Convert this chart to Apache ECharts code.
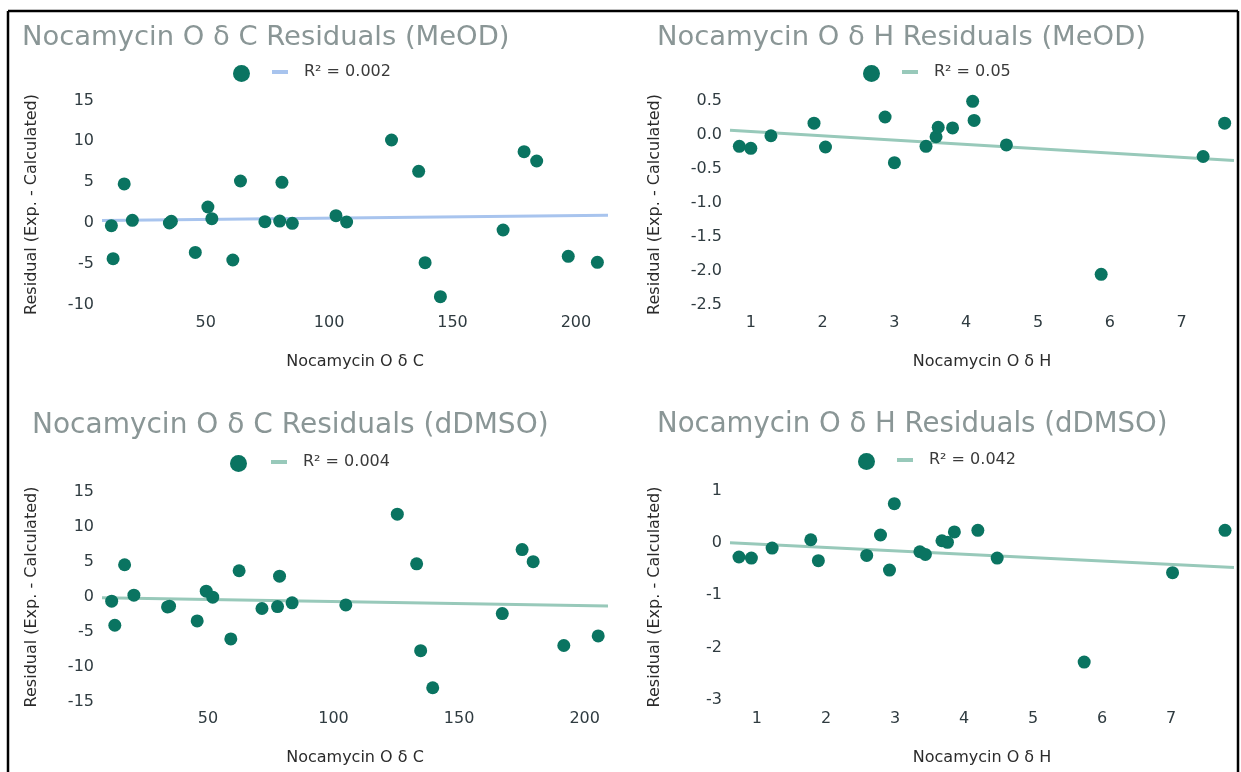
<!DOCTYPE html>
<html>
<head>
<meta charset="utf-8">
<title>Nocamycin O residuals</title>
<script src="https://cdn.jsdelivr.net/npm/echarts@6/dist/echarts.min.js"></script>
<style>
  html, body { margin: 0; padding: 0; background: #ffffff; }
  #chart { width: 1241px; height: 772px; }
</style>
</head>
<body>
<div id="chart"></div>
<script>
// ---- Nocamycin O, 13C shifts in MeOD: shift vs residual ----
const shiftC_MeOD = [11.8, 12.5, 17.0, 20.3, 35.3, 36.1, 45.8, 50.9, 52.5, 61.0, 64.1, 74.0, 80.0, 80.9, 85.1, 102.8, 107.1, 125.3, 136.3, 138.9, 145.1, 170.5, 179.0, 184.1, 196.9, 208.7];
const residC_MeOD = [-0.33, -4.37, 4.78, 0.33, 0.0, 0.2, -3.6, 1.96, 0.53, -4.53, 5.14, 0.16, 0.24, 4.98, -0.04, 0.9, 0.12, 10.16, 6.33, -4.86, -9.02, -0.86, 8.73, 7.59, -4.08, -4.82];
const trendC_MeOD_x = [8.0, 213.0];
const trendC_MeOD_y = [0.3, 0.95];

// ---- Nocamycin O, 1H shifts in MeOD ----
const shiftH_MeOD = [0.84, 1.0, 1.28, 1.88, 2.04, 2.87, 3.0, 3.44, 3.58, 3.61, 3.81, 4.09, 4.11, 4.56, 5.88, 7.30, 7.60];
const residH_MeOD = [-0.17, -0.20, -0.015, 0.17, -0.18, 0.26, -0.41, -0.17, -0.03, 0.11, 0.10, 0.49, 0.21, -0.15, -2.05, -0.32, 0.17];
const trendH_MeOD_x = [0.71, 7.73];
const trendH_MeOD_y = [0.065, -0.38];

// ---- Nocamycin O, 13C shifts in dDMSO ----
const shiftC_DMSO = [11.65, 12.9, 16.8, 20.5, 33.9, 34.7, 45.7, 49.3, 51.9, 59.1, 62.4, 71.5, 77.7, 78.5, 83.5, 104.9, 125.4, 133.1, 134.7, 139.5, 167.2, 175.1, 179.5, 191.7, 205.4];
const residC_DMSO = [-0.6, -4.05, 4.62, 0.26, -1.42, -1.32, -3.43, 0.84, -0.02, -6.01, 3.76, -1.65, -1.37, 2.99, -0.84, -1.13, 11.86, 4.75, -7.69, -13.0, -2.37, 6.79, 5.06, -6.95, -5.58];
const trendC_DMSO_x = [7.8, 209.3];
const trendC_DMSO_y = [-0.12, -1.3];

// ---- Nocamycin O, 1H shifts in dDMSO ----
const shiftH_DMSO = [0.74, 0.92, 1.22, 1.78, 1.89, 2.59, 2.79, 2.92, 2.99, 3.36, 3.44, 3.68, 3.76, 3.86, 4.20, 4.48, 5.74, 7.02, 7.78];
const residH_DMSO = [-0.27, -0.29, -0.10, 0.06, -0.34, -0.24, 0.15, -0.52, 0.75, -0.17, -0.22, 0.04, 0.01, 0.21, 0.24, -0.29, -2.28, -0.57, 0.24];
const trendH_DMSO_x = [0.61, 7.91];
const trendH_DMSO_y = [0.0, -0.47];

// ---- tick labels ----
const ticksShiftC = [50, 100, 150, 200];
const ticksShiftH = [1, 2, 3, 4, 5, 6, 7];
const ticksResC_MeOD = [-10, -5, 0, 5, 10, 15];
const ticksResH_MeOD = [-2.5, -2.0, -1.5, -1.0, -0.5, 0.0, 0.5];
const ticksResC_DMSO = [-15, -10, -5, 0, 5, 10, 15];
const ticksResH_DMSO = [-3, -2, -1, 0, 1];

// ---- titles / legend text ----
const panelTitles = [
  'Nocamycin O δ C Residuals (MeOD)',
  'Nocamycin O δ H Residuals (MeOD)',
  'Nocamycin O δ C Residuals (dDMSO)',
  'Nocamycin O δ H Residuals (dDMSO)'
];
const fitLabels = ['R² = 0.002', 'R² = 0.05', 'R² = 0.004', 'R² = 0.042'];
const pointNames = ['MeOD δC', 'MeOD δH', 'dDMSO δC', 'dDMSO δH'];
const xNames = ['Nocamycin O δ C', 'Nocamycin O δ H', 'Nocamycin O δ C', 'Nocamycin O δ H'];
const yName = 'Residual (Exp. - Calculated)';

const FONT = 'DejaVu Sans';
const POINT = '#0a7461';
const FIT_BLUE = '#a8c4ee';
const FIT_TEAL = '#98c9ba';

const pair = (xs, ys) => xs.map((x, i) => [x, ys[i]]);

const panels = [
  { grid: { left: 102, top: 100, width: 506, height: 209 },
    x: [8.0, 213.0], y: [-10.53, 15.06], xt: ticksShiftC, yt: ticksResC_MeOD, yfmt: v => String(v),
    pts: pair(shiftC_MeOD, residC_MeOD), fit: pair(trendC_MeOD_x, trendC_MeOD_y), fitColor: FIT_BLUE,
    title: { left: 22, top: 24, size: 27.4 }, dot: { left: 233, top: 65 }, line: { left: 272, top: 64 }, yGap: 62 },
  { grid: { left: 730, top: 100, width: 504, height: 209 },
    x: [0.71, 7.73], y: [-2.56, 0.51], xt: ticksShiftH, yt: ticksResH_MeOD, yfmt: v => v.toFixed(1),
    pts: pair(shiftH_MeOD, residH_MeOD), fit: pair(trendH_MeOD_x, trendH_MeOD_y), fitColor: FIT_TEAL,
    title: { left: 657, top: 24, size: 27.4 }, dot: { left: 863, top: 65 }, line: { left: 902, top: 64 }, yGap: 67 },
  { grid: { left: 102, top: 489, width: 506, height: 216 },
    x: [7.8, 209.3], y: [-15.47, 15.47], xt: ticksShiftC, yt: ticksResC_DMSO, yfmt: v => String(v),
    pts: pair(shiftC_DMSO, residC_DMSO), fit: pair(trendC_DMSO_x, trendC_DMSO_y), fitColor: FIT_TEAL,
    title: { left: 32, top: 412, size: 28 }, dot: { left: 230, top: 455 }, line: { left: 271, top: 454 }, yGap: 62 },
  { grid: { left: 730, top: 489, width: 504, height: 216 },
    x: [0.61, 7.91], y: [-3.10, 1.03], xt: ticksShiftH, yt: ticksResH_DMSO, yfmt: v => String(v),
    pts: pair(shiftH_DMSO, residH_DMSO), fit: pair(trendH_DMSO_x, trendH_DMSO_y), fitColor: FIT_TEAL,
    title: { left: 657, top: 411, size: 27.6 }, dot: { left: 858, top: 453 }, line: { left: 897, top: 452 }, yGap: 67 }
];

const option = {
  backgroundColor: '#ffffff',
  animation: false,
  textStyle: { fontFamily: FONT },
  title: [], grid: [], xAxis: [], yAxis: [], legend: [], series: [],
  graphic: [
    // thin black frame around the figure
    { type: 'line', shape: { x1: 8, y1: 11, x2: 8, y2: 772 }, style: { stroke: '#000', lineWidth: 2.5 } },
    { type: 'line', shape: { x1: 8, y1: 11, x2: 1238, y2: 11 }, style: { stroke: '#000', lineWidth: 2.5 } },
    { type: 'line', shape: { x1: 1238, y1: 11, x2: 1238, y2: 772 }, style: { stroke: '#000', lineWidth: 2.5 } }
  ]
};

panels.forEach((p, i) => {
  option.title.push({
    text: panelTitles[i], left: p.title.left, top: p.title.top, padding: 0,
    textStyle: { fontFamily: FONT, fontSize: p.title.size, fontWeight: 'normal', color: '#8a9696' }
  });
  option.grid.push(Object.assign({ containLabel: false }, p.grid));
  option.xAxis.push({
    type: 'value', gridIndex: i, min: p.x[0], max: p.x[1],
    name: xNames[i], nameLocation: 'middle', nameGap: 45,
    nameTextStyle: { fontFamily: FONT, fontSize: 16, color: '#2b2b2b' },
    axisLine: { show: false }, axisTick: { show: false }, splitLine: { show: false },
    axisLabel: { customValues: p.xt, margin: 6, fontFamily: FONT, fontSize: 16, color: '#2f3b40' }
  });
  option.yAxis.push({
    type: 'value', gridIndex: i, min: p.y[0], max: p.y[1],
    name: yName, nameLocation: 'middle', nameGap: p.yGap, nameRotate: 90,
    nameTextStyle: { fontFamily: FONT, fontSize: 16, color: '#2b2b2b' },
    axisLine: { show: false }, axisTick: { show: false }, splitLine: { show: false },
    axisLabel: { customValues: p.yt, formatter: p.yfmt, margin: 8, fontFamily: FONT, fontSize: 16, color: '#2f3b40' }
  });
  option.legend.push({
    data: [{ name: pointNames[i], icon: 'circle' }],
    left: p.dot.left, top: p.dot.top, padding: 0, itemWidth: 17, itemHeight: 17,
    selectedMode: false, formatter: () => '',
    textStyle: { fontFamily: FONT, fontSize: 16 }
  });
  option.legend.push({
    data: [{ name: fitLabels[i], icon: 'rect' }],
    left: p.line.left, top: p.line.top, padding: 0, itemWidth: 16, itemHeight: 4,
    selectedMode: false,
    textStyle: { fontFamily: FONT, fontSize: 16, color: '#3a3a3a', padding: [0, 0, 0, 11] }
  });
  option.series.push({
    name: fitLabels[i], type: 'line', xAxisIndex: i, yAxisIndex: i,
    data: p.fit, showSymbol: false, symbol: 'none', z: 2,
    lineStyle: { color: p.fitColor, width: 3 }, itemStyle: { color: p.fitColor }
  });
  option.series.push({
    name: pointNames[i], type: 'scatter', xAxisIndex: i, yAxisIndex: i,
    data: p.pts, symbolSize: 13, z: 3,
    itemStyle: { color: POINT, opacity: 1 }
  });
});

const chart = echarts.init(document.getElementById('chart'), null, { renderer: 'canvas' });
chart.setOption(option);
</script>
</body>
</html>
